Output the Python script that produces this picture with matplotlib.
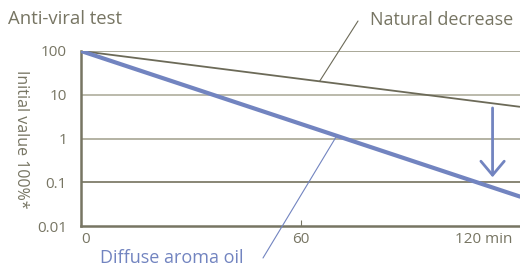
import numpy as np
import matplotlib
matplotlib.use("Agg")
import matplotlib.pyplot as plt
import matplotlib.transforms as mtransforms

# data
time = [0, 120]
natural = [100, 5.3]
aroma = [100, 0.047]
yticks = [0.01, 0.1, 1, 10, 100]
ytick_labels = ["0.01", "0.1", "1", "10", "100"]
xticks = [0, 60, 120]
xtick_labels = ["0", "60", "120 min"]

olive = "#777563"
blue = "#7284c0"

plt.rcParams['font.family'] = ['Open Sans', 'DejaVu Sans']

fig = plt.figure(figsize=(5.2, 2.67), dpi=100)
ax = fig.add_axes([81/520, 41/267, 439/520, 175/267])

ax.set_yscale("log")
ax.set_ylim(0.01, 100)
ax.set_xlim(0, 120)

# horizontal guides
grid_cols = {100: "#a3a190", 10: "#b5b4a5", 1: "#aeac9c", 0.1: "#7f7d6a"}
for v, c in grid_cols.items():
    ax.axhline(v, color=c, lw=1.3, zorder=1)

ax.plot(time, natural, color="#6c6a58", lw=1.3, zorder=3, solid_capstyle="butt")
ax.plot(time, aroma, color=blue, lw=3.0, zorder=4, solid_capstyle="round")

for s in ["top", "right"]:
    ax.spines[s].set_visible(False)
for s in ["left", "bottom"]:
    ax.spines[s].set_color(olive)
    ax.spines[s].set_linewidth(1.8)

ax.set_yticks(yticks)
ax.set_yticklabels(ytick_labels)
ax.minorticks_off()
ax.tick_params(axis="y", length=0, pad=10, labelsize=11, labelcolor=olive)
ax.set_xticks(xticks)
ax.set_xticklabels(xtick_labels)
ax.tick_params(axis="x", direction="in", length=4, width=0.8, color=olive,
               pad=4, labelsize=11, labelcolor=olive)
lbls = ax.get_xticklabels()
lbls[0].set_horizontalalignment("left")
lbls[-1].set_horizontalalignment("right")
lbls[-1].set_transform(lbls[-1].get_transform() +
                       mtransforms.ScaledTranslation(-8/100, 0, fig.dpi_scale_trans))
ax.get_xticklines()[4].set_visible(False)

fig.text(8/520, 1 - 19/267, "Anti-viral test", fontsize=13.3, color=olive,
         ha="left", va="center")
fig.text(21/520, 1 - 139/267, "Initial value 100%*", fontsize=11.5, color=olive,
         rotation=-90, ha="center", va="center")

# labels with leader lines
ax.annotate("", xy=(65.2, 20.2), xytext=(358, 267 - 21), textcoords="figure pixels",
            arrowprops=dict(arrowstyle="-", color="#6c6a58", lw=0.8,
                            shrinkA=0, shrinkB=0), annotation_clip=False)
fig.text(370/520, 1 - 20/267, "Natural decrease", fontsize=13, color=olive,
         ha="left", va="center")

ax.annotate("", xy=(69.9, 1.15), xytext=(263, 267 - 258), textcoords="figure pixels",
            arrowprops=dict(arrowstyle="-", color=blue, lw=0.8,
                            shrinkA=0, shrinkB=0), annotation_clip=False)
fig.text(100/520, 1 - 258/267, "Diffuse aroma oil", fontsize=13, color=blue,
         ha="left", va="center")

# downward arrow
ax.annotate("", xy=(112.5, 0.13), xytext=(112.5, 5.0),
            arrowprops=dict(arrowstyle="->,head_length=0.5,head_width=0.42",
                            color=blue, lw=2.0, mutation_scale=20,
                            shrinkA=0, shrinkB=0), zorder=5)

fig.savefig("out.png", dpi=100)
